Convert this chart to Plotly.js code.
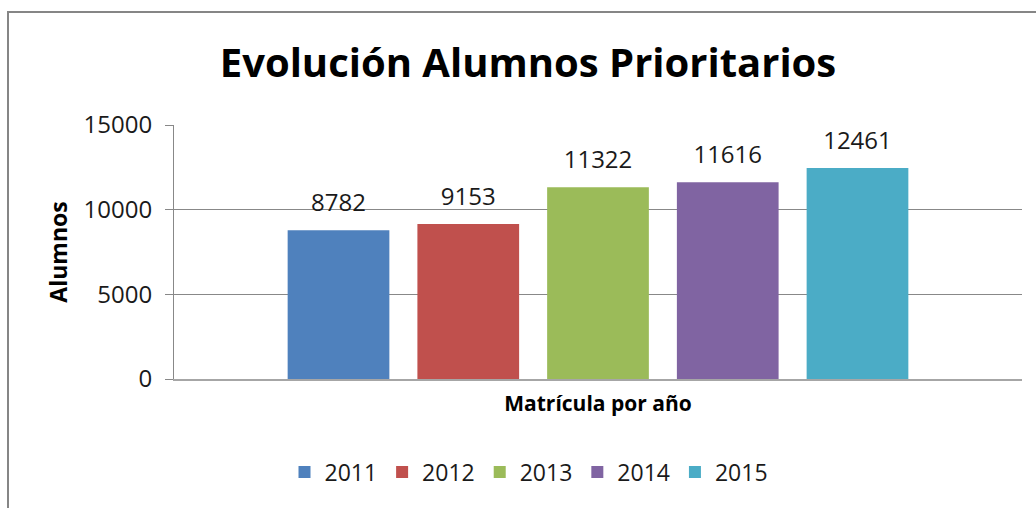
<!DOCTYPE html>
<html>
<head>
<meta charset="utf-8">
<script src="https://cdn.plot.ly/plotly-3.0.1.min.js"></script>
<style>html,body{margin:0;padding:0;background:#fff;}#chart{width:1036px;height:508px;}</style>
</head>
<body>
<div id="chart"></div>
<script>
const category = ["Matrícula por año"];
const years = ["2011", "2012", "2013", "2014", "2015"];
const values = [8782, 9153, 11322, 11616, 12461];
const colors = ["#4F81BD", "#C0504D", "#9BBB59", "#8064A2", "#4BACC6"];
const yTicks = [0, 5000, 10000, 15000];

const FONT = "Open Sans, sans-serif";
const traces = years.map((yr, i) => ({
  type: "bar",
  name: yr,
  x: category,
  y: [values[i]],
  marker: {color: colors[i]},
  text: [String(values[i])],
  texttemplate: "<span style='font-size:24px'>%{text}</span><br> ",
  textposition: "outside",
  cliponaxis: false,
  textfont: {family: FONT, size: 10, color: "#1a1a1a"},
  hoverinfo: "skip"
}));

const ml = 174, mr = 14, mt = 125, mb = 129;
const pw = 1036 - ml - mr, ph = 508 - mt - mb;

const layout = {
  width: 1036, height: 508,
  margin: {l: ml, r: mr, t: mt, b: mb, pad: 0},
  paper_bgcolor: "#fff", plot_bgcolor: "#fff",
  font: {family: FONT, color: "#1a1a1a"},
  title: {
    text: "<b>Evolución Alumnos Prioritarios</b>",
    font: {family: FONT, size: 40, color: "#000"},
    x: 528 / 1036, xref: "container", xanchor: "center",
    y: 1 - 63 / 508, yref: "container", yanchor: "middle"
  },
  barmode: "group",
  bargap: 0.235,
  bargroupgap: 0.216,
  xaxis: {
    showticklabels: false,
    ticks: "",
    showline: true, linecolor: "#a6a6a6", linewidth: 1.5,
    title: {text: "<b>Matrícula por año</b>", font: {family: FONT, size: 21, color: "#000"}, standoff: 17}
  },
  yaxis: {
    range: [0, 15000],
    tickvals: yTicks,
    ticktext: yTicks.map(String),
    ticks: "outside", ticklen: 8, tickcolor: "#888",
    ticklabelstandoff: 8,
    showline: true, linecolor: "#888", linewidth: 1,
    showgrid: true, gridcolor: "#888", gridwidth: 1,
    zeroline: false,
    tickfont: {family: FONT, size: 24, color: "#1a1a1a"},
    title: {text: "<b>Alumnos</b>", font: {family: FONT, size: 23, color: "#000"}, standoff: 9}
  },
  showlegend: true,
  legend: {
    orientation: "h",
    xref: "container", yref: "container",
    x: 529 / 1036, xanchor: "center",
    y: 1 - 472 / 508, yanchor: "middle",
    font: {family: FONT, size: 23, color: "#1a1a1a"},
    itemclick: false, itemdoubleclick: false
  },
  shapes: [{
    type: "rect", xref: "paper", yref: "paper",
    x0: (8 - ml) / pw, x1: (1060 - ml) / pw,
    y0: (508 - mb - 530) / ph, y1: (508 - mb - 12) / ph,
    line: {color: "#868686", width: 2}, fillcolor: "rgba(0,0,0,0)", layer: "below"
  }]
};

Plotly.newPlot("chart", traces, layout, {displayModeBar: false, staticPlot: true});
</script>
</body>
</html>
